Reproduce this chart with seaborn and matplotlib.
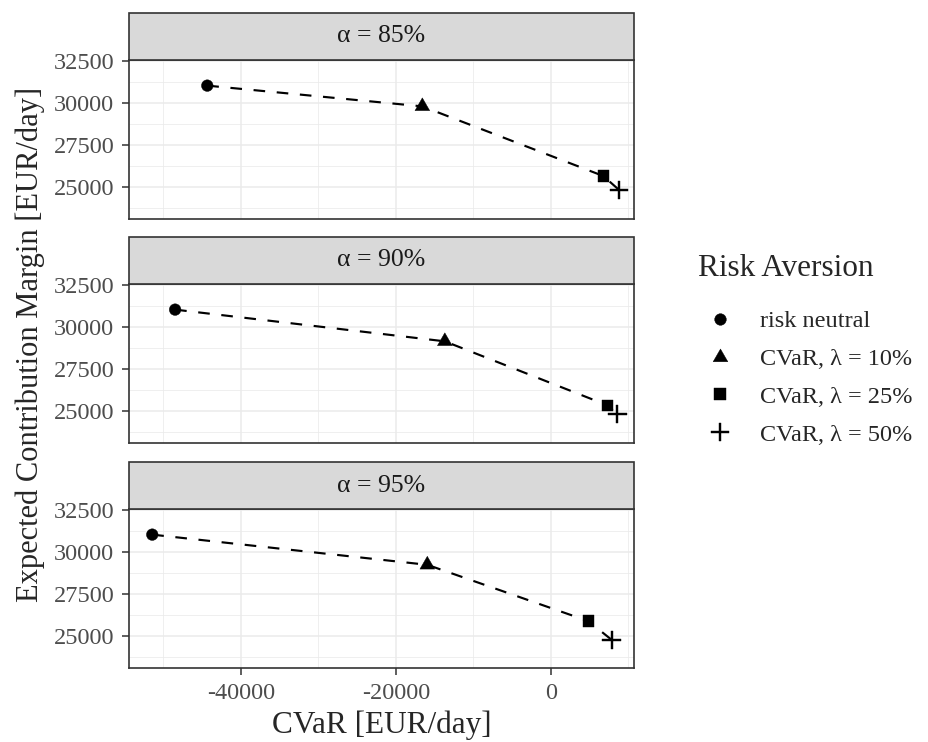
import numpy as np
import pandas as pd
import seaborn as sns
import matplotlib.pyplot as plt
from matplotlib.path import Path
from matplotlib.patches import Rectangle
from matplotlib.ticker import MultipleLocator

# values
alpha_levels = ["α = 85%", "α = 90%", "α = 95%"]
risk_levels = ["risk neutral", "CVaR, λ = 10%", "CVaR, λ = 25%", "CVaR, λ = 50%"]

cvar_85 = [-44350, -16600, 6750, 8770]
margin_85 = [31010, 29780, 25650, 24830]
cvar_90 = [-48500, -13700, 7260, 8550]
margin_90 = [31010, 29130, 25340, 24810]
cvar_95 = [-51450, -15960, 4820, 7830]
margin_95 = [31010, 29220, 25880, 24770]

x_ticks = [-40000, -20000, 0]
y_ticks = [25000, 27500, 30000, 32500]

df = pd.DataFrame({
    "alpha": np.repeat(alpha_levels, len(risk_levels)),
    "risk": risk_levels * len(alpha_levels),
    "cvar": cvar_85 + cvar_90 + cvar_95,
    "margin": margin_85 + margin_90 + margin_95,
})

sns.set_theme(style="white")
plt.rcParams["font.family"] = ["Liberation Serif", "DejaVu Serif"]

# ggplot-like shapes: triangle centred on its centroid, thin plus
tri = Path([(0, 1), (-0.866, -0.5), (0.866, -0.5), (0, 1)],
           [Path.MOVETO, Path.LINETO, Path.LINETO, Path.CLOSEPOLY])
w = 0.09
plus_v = [(-w, -1), (w, -1), (w, -w), (1, -w), (1, w), (w, w), (w, 1),
          (-w, 1), (-w, w), (-1, w), (-1, -w), (-w, -w), (-w, -1)]
plus = Path(plus_v, [Path.MOVETO] + [Path.LINETO] * 11 + [Path.CLOSEPOLY])

markers = dict(zip(risk_levels, ["o", tri, "s", plus]))
sizes = dict(zip(risk_levels, [70, 150, 68, 180]))

g = sns.FacetGrid(df, row="alpha", row_order=alpha_levels, height=2.4,
                  aspect=3.2, sharex=True, sharey=True, despine=False)
g.map_dataframe(sns.lineplot, x="cvar", y="margin", color="black",
                linestyle=(0, (5.4, 5.4)), linewidth=1.55, estimator=None,
                sort=True, legend=False)
g.map_dataframe(sns.scatterplot, x="cvar", y="margin", style="risk",
                size="risk", style_order=risk_levels, size_order=risk_levels,
                markers=markers, sizes=sizes, color="black",
                edgecolor="black", linewidth=0.3, zorder=3)
g.set_titles("")
g.set_axis_labels("", "")

fig = g.figure
fig.set_size_inches(9.29, 7.42)
W, H = 929, 742


def fx(px):
    return px / W


def fy(py):
    return 1 - py / H


left, right = 129, 634
tops = [60, 284, 509]
bots = [219, 443, 668]
strip_h = 47

for i, ax in enumerate(g.axes.flat):
    ax.set_position([fx(left), fy(bots[i]), fx(right) - fx(left),
                     fy(tops[i]) - fy(bots[i])])
    ax.set_xlim(-54450, 10710)
    ax.set_ylim(23100, 32530)
    ax.set_xticks(x_ticks)
    ax.set_yticks(y_ticks)
    ax.xaxis.set_minor_locator(MultipleLocator(10000))
    ax.yaxis.set_minor_locator(MultipleLocator(1250))
    ax.grid(which="major", color="#EBEBEB", linewidth=1.1)
    ax.grid(which="minor", color="#EBEBEB", linewidth=0.55)
    ax.set_axisbelow(True)
    for sp in ax.spines.values():
        sp.set_color("#333333")
        sp.set_linewidth(1.2)
    ax.tick_params(axis="both", which="major", length=5.2, width=1.1,
                   color="#333333", labelsize=17.5, labelcolor="#4D4D4D",
                   pad=5.5, left=True, bottom=(i == 2))
    ax.tick_params(which="minor", length=0)
    ax.set_xticklabels(["-40000", "-20000", "0"] if i == 2 else [])
    ax.set_yticklabels([str(v) for v in y_ticks])

    # strip header
    fig.add_artist(Rectangle((fx(left), fy(tops[i])), fx(right) - fx(left),
                             fy(tops[i] - strip_h) - fy(tops[i]),
                             transform=fig.transFigure, facecolor="#D9D9D9",
                             edgecolor="#333333", linewidth=1.2))
    fig.text(fx((left + right) / 2), fy(tops[i] - strip_h / 2), alpha_levels[i],
             ha="center", va="center", fontsize=18.5, color="#1A1A1A")

fig.text(fx((left + right) / 2), fy(725), "CVaR [EUR/day]", ha="center",
         va="center", fontsize=22.5)
fig.text(fx(30), fy(344), "Expected Contribution Margin [EUR/day]",
         ha="center", va="center", rotation=90, fontsize=22)

# legend: title as its own text, entries through the seaborn legend data
fig.text(fx(698), fy(268), "Risk Aversion", ha="left", va="center",
         fontsize=22.5)
handles = [g._legend_data[r] for r in risk_levels]
leg = fig.legend(handles, risk_levels, loc="center left",
                 bbox_to_anchor=(fx(698), fy(378)), fontsize=17.5,
                 handlelength=1.81, handletextpad=0.74, labelspacing=0.65,
                 borderpad=0, borderaxespad=0, frameon=False)
for h, r in zip(leg.legend_handles, risk_levels):
    if hasattr(h, "set_markerfacecolor"):
        h.set_markerfacecolor("black")
        h.set_markeredgecolor("black")
        h.set_markersize(np.sqrt(sizes[r]))
    else:
        h.set_facecolor("black")
        h.set_edgecolor("black")
        h.set_sizes([sizes[r]])

fig.savefig("out.png", dpi=100)
